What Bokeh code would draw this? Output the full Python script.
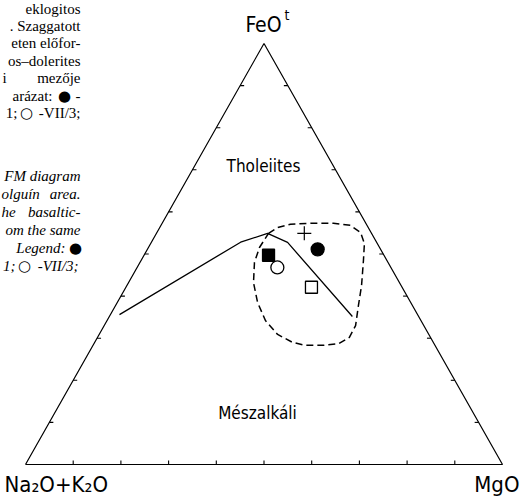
import math
from bokeh.plotting import figure
from bokeh.models import Range1d, Label
from bokeh.embed import file_html
from bokeh.resources import INLINE

# AFM compositions, normalised to 100: F = FeO(t), A = Na2O+K2O, M = MgO
# tholeiitic / calc-alkaline dividing line
boundary_F = [35.6, 52.8, 54.9, 52.8, 35.2]
boundary_A = [62.5, 28.5, 21.8, 18.7, 13.9]
boundary_M = [1.9, 18.7, 23.3, 28.6, 51.0]

# field of the basaltic-doleritic rocks (closed dashed outline)
field_F = [54.9, 56.3, 57.0, 57.3, 57.3, 56.8, 55.1, 52.5, 48.5, 42.5, 37.8, 33.0,
           30.2, 28.7, 28.3, 28.3, 29.0, 30.9, 34.2, 38.5, 43.2, 48.0, 51.6, 54.9]
field_A = [21.6, 19.0, 15.9, 11.6, 6.8, 3.5, 2.2, 2.7, 4.9, 8.3, 11.3, 14.3,
           17.0, 20.0, 23.6, 27.2, 29.5, 31.7, 32.6, 32.1, 30.6, 28.0, 25.2, 21.6]
field_M = [23.5, 24.7, 27.0, 31.1, 35.9, 39.7, 42.7, 44.8, 46.6, 49.2, 50.9, 52.7,
           52.8, 51.3, 48.1, 44.5, 41.5, 37.4, 33.2, 29.4, 26.2, 24.0, 23.3, 23.5]

# analysed samples, one entry per symbol
sample_marker = ["square", "circle", "cross", "circle", "square"]
sample_filled = [True, False, False, True, False]
sample_F = [49.7, 46.8, 54.9, 51.1, 42.1]
sample_A = [24.2, 23.8, 14.1, 13.2, 19.0]
sample_M = [26.1, 29.4, 31.0, 35.7, 38.9]

corner_labels = ["FeO", "Na\u2082O+K\u2082O", "MgO"]
field_labels = ["Tholeiites", "Mészalkáli"]

H = math.sqrt(3) / 2


def to_xy(F, A, M):
    xs, ys = [], []
    for f, a, m in zip(F, A, M):
        t = f + a + m
        xs.append(m / t + 0.5 * f / t)
        ys.append(H * f / t)
    return xs, ys


# page geometry (pixels): triangle vertices and canvas size
W, HT = 527, 501
left_px, right_px, base_px, apex_px = 25, 502, 464, 43
sx = (right_px - left_px)            # px per unit in x
sy = (base_px - apex_px) / H         # px per unit in y

p = figure(width=W, height=HT, output_backend="svg", toolbar_location=None,
           x_range=Range1d(-left_px / sx, (W - left_px) / sx),
           y_range=Range1d(-(HT - base_px) / sy, base_px / sy),
           min_border=0, outline_line_color=None)
p.xaxis.visible = False
p.yaxis.visible = False
p.grid.visible = False
p.background_fill_color = "white"
p.border_fill_color = "white"

# triangle frame
p.line([0, 1, 0.5, 0], [0, 0, H, 0], line_color="black", line_width=1.2)

# 10 % ticks on each side
tl = 4.0
bx0, by0, bx1, by1 = [], [], [], []
for k in range(1, 10):
    f = k / 10
    # base
    bx0.append(f); by0.append(0); bx1.append(f); by1.append(tl / sy)
    # left side (constant F lines are horizontal)
    bx0.append(f / 2); by0.append(f * H); bx1.append(f / 2 + tl / sx); by1.append(f * H)
    # right side
    bx0.append(1 - f / 2); by0.append(f * H); bx1.append(1 - f / 2 - tl / sx); by1.append(f * H)
p.segment(bx0, by0, bx1, by1, line_color="black", line_width=1.1)

# dividing line
bx, by = to_xy(boundary_F, boundary_A, boundary_M)
p.line(bx, by, line_color="black", line_width=1.3)

# dashed field
fx, fy = to_xy(field_F, field_A, field_M)
p.line(fx, fy, line_color="black", line_width=1.5, line_dash="7 4")

# samples
sxs, sys_ = to_xy(sample_F, sample_A, sample_M)
for mk, filled, x, y in zip(sample_marker, sample_filled, sxs, sys_):
    if mk == "cross":
        p.scatter([x], [y], marker="cross", size=14, line_color="black", line_width=1.2)
    else:
        p.scatter([x], [y], marker=mk, size=12 if mk == "square" else 13,
                  fill_color="black" if filled else "white",
                  line_color="black", line_width=1.3)

sans = "DejaVu Sans Condensed"


# labels placed in screen pixels (y given from the top of the page)
def lab(text, x, y, size, align="center", font=sans, style="normal", base="middle"):
    p.add_layout(Label(x=x, y=HT - y, x_units="screen", y_units="screen", text=text,
                       text_font=font, text_font_size=f"{size}px", text_font_style=style,
                       text_align=align, text_baseline=base, text_color="black"))


lab(corner_labels[0], 263, 24, 21)
lab("t", 284, 14, 14, align="left")
lab(corner_labels[1], 4, 484, 22, align="left")
lab(corner_labels[2], 519, 484, 22, align="right")
lab(field_labels[0], 263, 165, 17)
lab(field_labels[1], 257, 412, 17)

# caption columns running into the page from the left
serif = "Liberation Serif"
cs = 15
hu = [(8, "eklogitos", 80), (25, ". Szaggatott", 80), (42, "eten előfor-", 80),
      (60, "os–dolerites", 80), (77, "mezője", 80), (95, "-", 80)]
for y, t, x in hu:
    lab(t, x, y, cs, align="right", font=serif)
lab("i", 2, 77, cs, align="left", font=serif)
lab("arázat:", 52, 95, cs, align="right", font=serif)
lab("●", 64, 95, 15, font="DejaVu Sans")

en = [(175, "FM diagram", 80), (193, "area.", 80), (211, "basaltic-", 80),
      (229, "om the same", 80), (247, "Legend:", 65)]
for y, t, x in en:
    lab(t, x, y, cs, align="right", font=serif, style="italic")
lab("olguín", 1, 193, cs, align="left", font=serif, style="italic")
lab("he", 1, 211, cs, align="left", font=serif, style="italic")
lab("●", 75, 247, 15, font="DejaVu Sans")

# last legend line of each caption: "1; ○ -VII/3;"
for y, xe, st in [(112, 80, "normal"), (265, 78, "italic")]:
    lab("-VII/3;", xe, y, cs, align="right", font=serif, style=st)
    lab("○", xe - 54, y, 15, font="DejaVu Sans")
    lab("1;", xe - 63, y, cs, align="right", font=serif, style=st)

open("out.html", "w").write(file_html(p, INLINE))
